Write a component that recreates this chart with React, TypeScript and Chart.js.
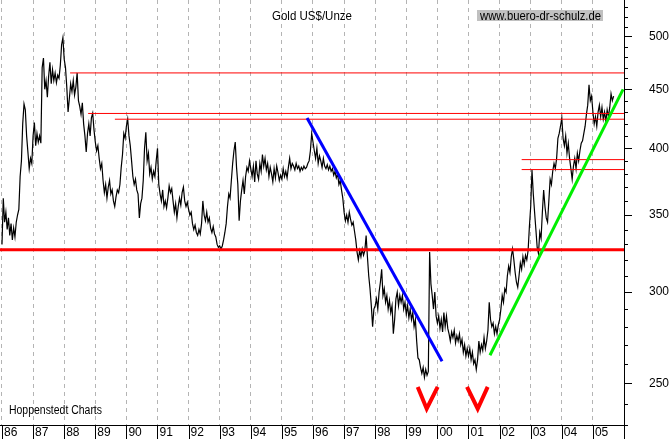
import { useEffect, useRef } from 'react';
import { Chart, registerables } from 'chart.js';

Chart.register(...registerables);

// ---- price data: gold US$/oz, half-monthly readings per year ----
const gold1986 = [330, 362, 345, 352, 340, 348, 336, 344, 333, 341, 335, 345, 350, 354, 378, 390, 420, 437, 432, 410, 397, 384, 392, 388];
const gold1987 = [410, 421, 402, 412, 405, 410, 404, 470, 479, 450, 458, 443, 462, 475, 455, 468, 458, 465, 456, 463, 460, 472, 492, 499];
const gold1988 = [478, 470, 452, 430, 442, 455, 448, 458, 445, 452, 465, 440, 435, 428, 438, 420, 410, 397, 412, 420, 410, 425, 429, 415];
const gold1989 = [405, 398, 402, 392, 384, 388, 375, 366, 372, 362, 370, 375, 365, 368, 360, 356, 363, 368, 366, 372, 385, 395, 412, 408];
const gold1990 = [418, 424, 410, 402, 390, 378, 372, 376, 368, 365, 348, 358, 362, 375, 400, 413, 390, 396, 380, 385, 376, 382, 378, 390];
const gold1991 = [400, 372, 365, 360, 368, 356, 360, 355, 362, 371, 366, 369, 360, 352, 358, 348, 356, 362, 357, 366, 370, 360, 356, 359];
const gold1992 = [354, 350, 352, 344, 340, 343, 338, 336, 340, 337, 344, 360, 350, 346, 352, 345, 348, 341, 338, 342, 337, 335, 330, 328];
const gold1993 = [329, 327, 329, 333, 338, 344, 356, 365, 362, 375, 388, 398, 405, 385, 372, 346, 360, 368, 375, 365, 378, 385, 382, 390];
const gold1994 = [384, 378, 386, 374, 390, 380, 376, 388, 382, 395, 386, 392, 383, 388, 378, 385, 380, 374, 384, 377, 386, 381, 375, 379];
const gold1995 = [376, 384, 378, 382, 377, 385, 392, 384, 388, 386, 383, 388, 384, 386, 382, 385, 383, 386, 384, 385, 388, 390, 398, 412];
const gold1996 = [405, 398, 392, 400, 388, 394, 390, 385, 392, 386, 384, 387, 383, 386, 382, 384, 379, 382, 377, 380, 372, 375, 368, 362];
const gold1997 = [352, 346, 350, 345, 352, 347, 343, 345, 339, 333, 325, 320, 326, 322, 327, 323, 326, 336, 322, 310, 302, 292, 280, 290];
const gold1998 = [292, 296, 290, 300, 306, 314, 298, 302, 294, 298, 290, 295, 288, 292, 276, 284, 296, 300, 292, 298, 294, 298, 290, 294];
const gold1999 = [287, 292, 285, 290, 284, 288, 280, 284, 272, 263, 262, 258, 255, 258, 253, 257, 254, 256, 325, 305, 298, 290, 300, 286];
const gold2000 = [282, 286, 279, 284, 277, 288, 280, 286, 279, 276, 272, 277, 274, 278, 271, 275, 272, 276, 270, 273, 266, 270, 264, 268];
const gold2001 = [264, 268, 262, 266, 260, 262, 257, 262, 272, 266, 270, 267, 274, 268, 272, 278, 294, 284, 280, 282, 276, 280, 276, 281];
const gold2002 = [284, 290, 298, 294, 302, 300, 310, 316, 312, 322, 327, 320, 312, 306, 303, 310, 318, 314, 322, 317, 323, 320, 326, 342];
const gold2003 = [356, 383, 365, 352, 340, 328, 324, 338, 334, 352, 368, 356, 348, 345, 360, 376, 372, 382, 388, 384, 392, 408, 412, 418];
const gold2004 = [425, 408, 402, 410, 396, 404, 392, 384, 376, 386, 392, 384, 396, 390, 398, 404, 406, 412, 418, 428, 436, 454, 440, 444];
const gold2005 = [430, 420, 426, 418, 430, 436, 426, 434, 424, 430, 422, 432, 426, 434, 446, 440, 444];

const dataYears = [1986, 1987, 1988, 1989, 1990, 1991, 1992, 1993, 1994, 1995, 1996, 1997, 1998, 1999, 2000, 2001, 2002, 2003, 2004, 2005];
const goldByYear = [gold1986, gold1987, gold1988, gold1989, gold1990, gold1991, gold1992, gold1993, gold1994, gold1995, gold1996, gold1997, gold1998, gold1999, gold2000, gold2001, gold2002, gold2003, gold2004, gold2005];
const pointsPerYear = 24;

// ---- axes ----
const xMin = 1985.936;
const xMax = 2006;
const xTickYears = [1986, 1987, 1988, 1989, 1990, 1991, 1992, 1993, 1994, 1995, 1996, 1997, 1998, 1999, 2000, 2001, 2002, 2003, 2004, 2005];
const xTickLabels = ['86', '87', '88', '89', '90', '91', '92', '93', '94', '95', '96', '97', '98', '99', '00', '01', '02', '03', '04', '05'];
const yMin = 230;
const yMax = 538;
const yTickValues = [250, 300, 350, 400, 450, 500];
const yTickLabels = ['250', '300', '350', '400', '450', '500'];
const yMinorTicks = [230, 240, 260, 270, 280, 290, 310, 320, 330, 340, 360, 370, 380, 390, 410, 420, 430, 440, 460, 470, 480, 490, 510, 520, 530];

// ---- annotation lines (data units) ----
const supportLevel = 326.5;
const resistanceFrom = [1988.19, 1988.77, 1989.63, 2002.71, 2002.71];
const resistanceLevel = [465, 428.8, 423.9, 391, 383.3];
const downTrendX = [1995.81, 2000.15];
const downTrendY = [425, 261.3];
const upTrendX = [2001.69, 2005.97];
const upTrendY = [264.4, 450];
const vMarkX1 = [1999.367, 1999.656, 2000.009];
const vMarkX2 = [2000.952, 2001.296, 2001.617];
const vMarkY = [248.2, 237.6, 248.2];

const titleText = 'Gold US$/Unze';
const urlText = 'www.buero-dr-schulz.de';
const sourceText = 'Hoppenstedt Charts';

const FONT = '"Liberation Sans", Arial, Helvetica, sans-serif';

function fitText(ctx: CanvasRenderingContext2D, text: string, x: number, baseline: number, width: number) {
  ctx.font = `12px ${FONT}`;
  const w = ctx.measureText(text).width;
  ctx.save();
  ctx.translate(x, baseline);
  ctx.scale(width / w, 1);
  ctx.textAlign = 'left';
  ctx.textBaseline = 'alphabetic';
  ctx.fillStyle = '#000';
  ctx.fillText(text, 0, 0);
  ctx.restore();
}

const decorPlugin = {
  id: 'decor',
  afterDraw(chart: any) {
    const { ctx, chartArea, scales } = chart;
    const xs = scales.x;
    const ys = scales.y;
    ctx.save();
    ctx.strokeStyle = '#000';
    ctx.lineWidth = 1;
    ctx.setLineDash([]);
    ctx.beginPath();
    for (const yr of [...xTickYears, xMax]) {
      const px = Math.round(xs.getPixelForValue(yr)) + 0.5;
      ctx.moveTo(px, chartArea.bottom);
      ctx.lineTo(px, chart.height);
    }
    for (const v of yMinorTicks) {
      const py = Math.round(ys.getPixelForValue(v)) + 0.5;
      ctx.moveTo(chartArea.right, py);
      ctx.lineTo(chartArea.right + 4, py);
    }
    ctx.stroke();

    fitText(ctx, titleText, 272, 20, 80);
    ctx.fillStyle = '#c0c0c0';
    ctx.fillRect(477, 10, 126, 11);
    fitText(ctx, urlText, 480, 20, 121);
    fitText(ctx, sourceText, 9, 413.5, 93);
    ctx.restore();
  },
};

function seg(xs: number[], ys: number[]) {
  return xs.map((x, i) => ({ x, y: ys[i] }));
}

export default function App() {
  const ref = useRef<HTMLCanvasElement>(null);

  useEffect(() => {
    const pricePoints: { x: number; y: number }[] = [];
    goldByYear.forEach((arr, k) => {
      arr.forEach((v, i) => pricePoints.push({ x: dataYears[k] + i / pointsPerYear, y: v }));
    });

    const overlay = (data: any[], color: string, width: number) => ({
      type: 'line' as const,
      data,
      borderColor: color,
      borderWidth: width,
      pointRadius: 0,
      fill: false,
      tension: 0,
      borderJoinStyle: 'miter' as const,
    });

    const datasets: any[] = [
      overlay(seg(vMarkX1, vMarkY), '#ff0000', 4),
      overlay(seg(vMarkX2, vMarkY), '#ff0000', 4),
      overlay(seg(downTrendX, downTrendY), '#0000ff', 3),
      overlay(seg(upTrendX, upTrendY), '#00ee00', 3),
      overlay([{ x: xMin, y: supportLevel }, { x: xMax, y: supportLevel }], '#ff0000', 3),
      ...resistanceLevel.map((lv, i) =>
        overlay([{ x: resistanceFrom[i], y: lv }, { x: xMax, y: lv }], '#ff0000', 1)
      ),
      {
        type: 'line',
        data: pricePoints,
        borderColor: '#000',
        borderWidth: 1.2,
        pointRadius: 0,
        fill: false,
        tension: 0,
      },
    ];

    const chart = new Chart(ref.current!, {
      type: 'line',
      data: { datasets },
      options: {
        responsive: false,
        animation: false,
        devicePixelRatio: 1,
        layout: { padding: 0 },
        plugins: {
          legend: { display: false },
          tooltip: { enabled: false },
          title: { display: false },
        },
        scales: {
          x: {
            type: 'linear',
            position: 'bottom',
            min: xMin,
            max: xMax,
            afterBuildTicks: (s: any) => {
              s.ticks = xTickYears.map((v) => ({ value: v }));
            },
            afterFit: (s: any) => {
              s.height = 14;
              s.paddingLeft = 0;
              s.paddingRight = 0;
              s.paddingTop = 0;
              s.paddingBottom = 0;
            },
            ticks: {
              autoSkip: false,
              maxRotation: 0,
              minRotation: 0,
              align: 'start',
              labelOffset: 2,
              padding: 0,
              color: '#000',
              font: { family: FONT, size: 12 },
              callback: (_v: any, i: number) => xTickLabels[i],
            },
            grid: {
              drawOnChartArea: true,
              drawTicks: false,
              color: '#b4b4b4',
              lineWidth: 1,
            },
            border: { display: true, color: '#000', width: 1, dash: [4, 4] },
          },
          y: {
            type: 'logarithmic',
            position: 'right',
            min: yMin,
            max: yMax,
            afterBuildTicks: (s: any) => {
              s.ticks = yTickValues.map((v) => ({ value: v }));
            },
            afterFit: (s: any) => {
              s.width = 48;
              s.paddingTop = 0;
              s.paddingBottom = 0;
              s.paddingLeft = 0;
              s.paddingRight = 0;
            },
            ticks: {
              autoSkip: false,
              padding: 17,
              color: '#000',
              font: { family: FONT, size: 12 },
              callback: (_v: any, i: number) => yTickLabels[i],
            },
            grid: {
              drawOnChartArea: false,
              drawTicks: true,
              tickLength: 8,
              tickColor: '#000',
            },
            border: { display: true, color: '#000', width: 1 },
          },
        },
      } as any,
      plugins: [decorPlugin],
    });
    return () => chart.destroy();
  }, []);

  return (
    <div style={{ position: 'fixed', left: 0, top: 0, width: 672, height: 439, background: '#fff' }}>
      <canvas ref={ref} width={672} height={439} style={{ display: 'block', width: 672, height: 439 }} />
    </div>
  );
}
